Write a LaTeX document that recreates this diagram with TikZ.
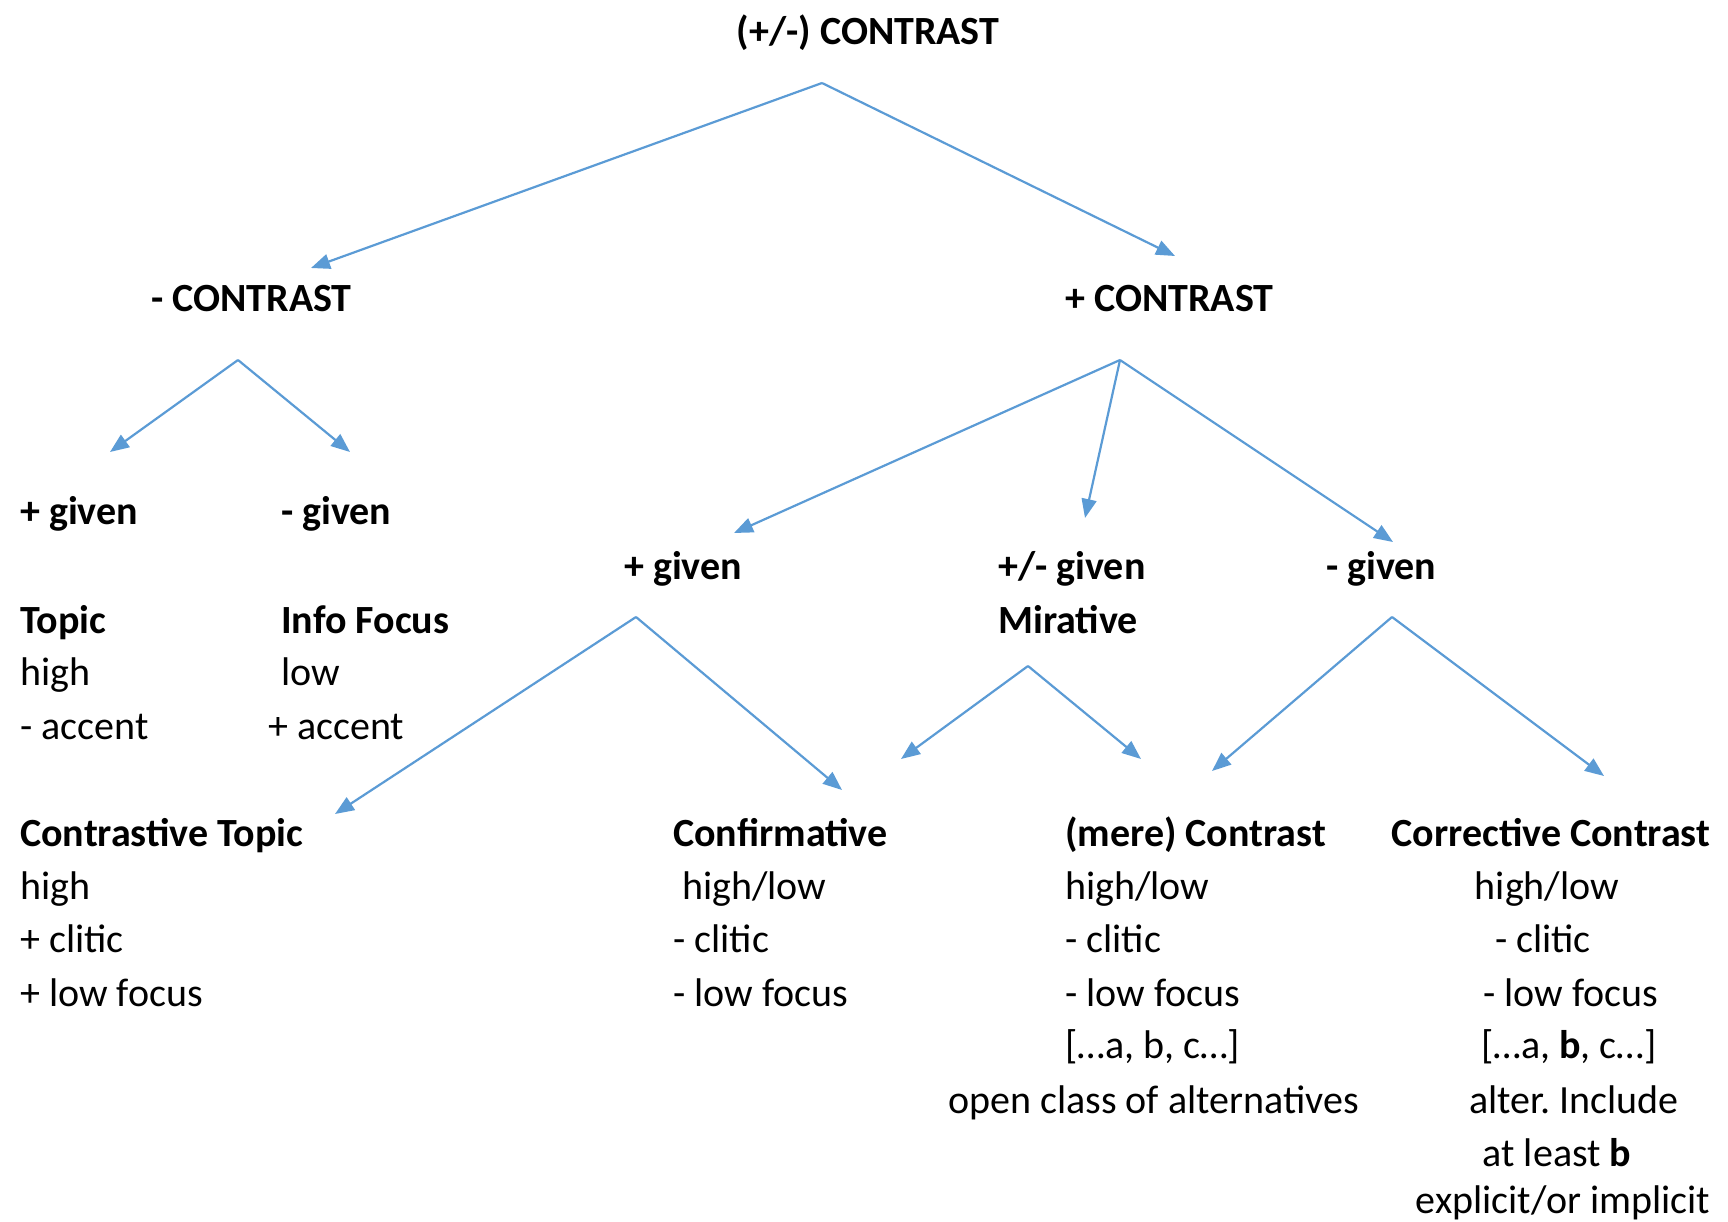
\documentclass[tikz,border=0pt]{standalone}
\usepackage{fontspec}
\setmainfont{Carlito}
\usetikzlibrary{arrows.meta}
\definecolor{arrblue}{RGB}{91,155,213}
\begin{document}
\begin{tikzpicture}[x=1pt,y=-1pt,
  lbl/.style={inner sep=0pt,anchor=base west,font=\fontsize{40}{53}\selectfont},
  hd/.style={lbl,font=\fontsize{40}{53}\selectfont\bfseries},
  cl/.style={lbl,anchor=base},
  ch/.style={hd,anchor=base},
  arr/.style={draw=arrblue,line width=2.2pt,arrows={-{Triangle[length=19pt,width=15pt,fill=arrblue]}}}]
\useasboundingbox (0,0) rectangle (1728,1222);
% texts
\node[ch] (root) at (868,45) {(+/-) CONTRAST};
\node[hd] (mc) at (151,312) {- CONTRAST};
\node[hd] (pc) at (1065,312) {+ CONTRAST};
\node[hd] (g1) at (20,524) {+ given};
\node[hd] (g2) at (281,524) {- given};
\node[hd] (topic) at (20,633) {Topic};
\node[lbl] (topic1) at (20,685) {high};
\node[lbl] (topic2) at (20,739) {- accent};
\node[hd] (info) at (281,633) {Info Focus};
\node[lbl] (info1) at (281,685) {low};
\node[lbl] (info2) at (268,739) {+ accent};
\node[hd] (g3) at (624,579) {+ given};
\node[hd] (g4) at (998,579) {+/- given};
\node[hd] (mir) at (998,633) {Mirative};
\node[hd] (g5) at (1326,579) {- given};
\node[hd] (ct) at (20,846) {Contrastive Topic};
\node[lbl] (ct1) at (20,899) {high};
\node[lbl] (ct2) at (20,952) {+ clitic};
\node[lbl] (ct3) at (20,1006) {+ low focus};
\node[hd] (cf) at (673,846) {Confirmative};
\node[lbl] (cf1) at (682,899) {high/low};
\node[lbl] (cf2) at (673,952) {- clitic};
\node[lbl] (cf3) at (673,1006) {- low focus};
\node[hd] (mc2) at (1065,846) {(mere) Contrast};
\node[lbl] (mc21) at (1065,899) {high/low};
\node[lbl] (mc22) at (1065,952) {- clitic};
\node[lbl] (mc23) at (1065,1006) {- low focus};
\node[lbl] (mc24) at (1065,1058) {[…a, b, c…]};
\node[lbl] (mc25) at (948,1113) {open class of alternatives};
\node[ch] (cc) at (1551,846) {Corrective Contrast};
\node[cl] (cc1) at (1547,899) {high/low};
\node[cl] (cc2) at (1543,952) {- clitic};
\node[cl] (cc3) at (1571,1006) {- low focus};
\node[cl] (cc4) at (1569,1058) {[…a, \textbf{b}, c…]};
\node[cl] (cc5) at (1574,1113) {alter.\ Include};
\node[cl] (cc6) at (1557,1166) {at least \textbf{b}};
\node[cl] (cc7) at (1563,1213) {explicit/or implicit};
% arrow end points
\coordinate (rootS) at (822,83);
\coordinate (mcT) at (311,268);
\coordinate (pcT) at (1175,256);
\coordinate (mcS) at (238,360);
\coordinate (g1T) at (110,452);
\coordinate (g2T) at (350,452);
\coordinate (pcS) at (1120,360);
\coordinate (g3T) at (734,533);
\coordinate (g4T) at (1085,518);
\coordinate (g5T) at (1393,542);
\coordinate (g3S) at (636,617);
\coordinate (ctT) at (335,814);
\coordinate (cfT) at (842,790);
\coordinate (mirS) at (1028,666);
\coordinate (mirL) at (901,759);
\coordinate (mirR) at (1141,759);
\coordinate (g5S) at (1392,617);
\coordinate (g5L) at (1212,771);
\coordinate (g5R) at (1604,776);
% arrows
\draw[arr] (rootS) -- (mcT);
\draw[arr] (rootS) -- (pcT);
\draw[arr] (mcS) -- (g1T);
\draw[arr] (mcS) -- (g2T);
\draw[arr] (pcS) -- (g3T);
\draw[arr] (pcS) -- (g4T);
\draw[arr] (pcS) -- (g5T);
\draw[arr] (g3S) -- (ctT);
\draw[arr] (g3S) -- (cfT);
\draw[arr] (mirS) -- (mirL);
\draw[arr] (mirS) -- (mirR);
\draw[arr] (g5S) -- (g5L);
\draw[arr] (g5S) -- (g5R);
\end{tikzpicture}
\end{document}
